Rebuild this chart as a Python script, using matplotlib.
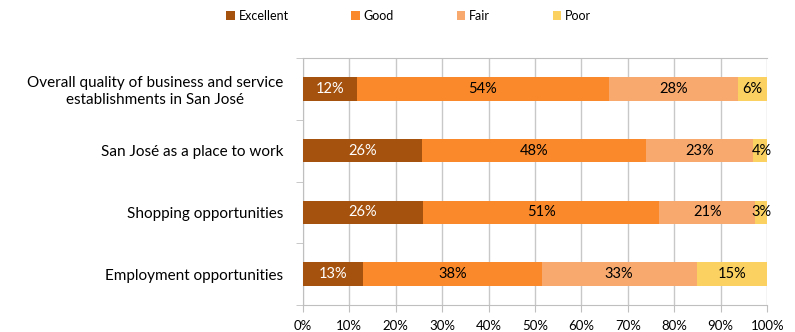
import numpy as np
import matplotlib
matplotlib.use("Agg")
import matplotlib.pyplot as plt

categories = ["Overall quality of business and service\nestablishments in San José",
              "San José as a place to work",
              "Shopping opportunities",
              "Employment opportunities"]
ratings = ["Excellent", "Good", "Fair", "Poor"]
excellent = [11.6, 25.6, 25.8, 13.0]
good = [54.3, 48.3, 51.0, 38.4]
fair = [27.8, 23.1, 20.6, 33.4]
poor = [6.2, 3.6, 2.6, 15.2]
colors = ["#a5520e", "#f9892b", "#f8a96e", "#fbd262"]
text_colors = ["white", "black", "black", "black"]

plt.rcParams['font.family'] = ['Lato', 'DejaVu Sans']

fig = plt.figure(figsize=(7.95, 3.32), dpi=100)
ax = fig.add_axes([0.381, 0.081, 0.584, 0.744])

y = np.arange(len(categories))
left = np.zeros(len(categories))
for name, vals, c, tc in zip(ratings, [excellent, good, fair, poor], colors, text_colors):
    vals = np.array(vals)
    ax.barh(y, vals, left=left, height=0.38, color=c, label=name, zorder=3)
    for yi, l, v in zip(y, left, vals):
        ax.text(l + v / 2, yi, "%d%%" % round(v), ha="center", va="center",
                fontsize=10.5, color=tc, zorder=4)
    left += vals

ax.set_xlim(0, 100)
ax.set_ylim(3.5, -0.5)
ax.set_xticks(np.arange(0, 101, 10))
ax.set_xticklabels(["%d%%" % v for v in range(0, 101, 10)], fontsize=9.5)
ax.set_yticks(y)
ax.set_yticklabels(categories, fontsize=11, multialignment="center")
ax.set_yticks(np.arange(-0.5, 4, 1), minor=True)
ax.tick_params(axis="y", which="major", length=0, pad=14)
ax.tick_params(axis="y", which="minor", length=5, color="#bfbfbf")
ax.tick_params(axis="x", length=5, color="#bfbfbf", pad=6)
ax.grid(axis="x", color="#c8c8c8", linewidth=1, zorder=0)
for s in ["left", "bottom", "top"]:
    ax.spines[s].set_color("#bfbfbf")
ax.spines["right"].set_visible(False)

fig.legend(loc="center", bbox_to_anchor=(0.514, 0.952), ncol=4, frameon=False,
           fontsize=9, handlelength=0.7, handleheight=0.7, handletextpad=0.3,
           columnspacing=5.0)

plt.savefig("out.png")
plt.close()
